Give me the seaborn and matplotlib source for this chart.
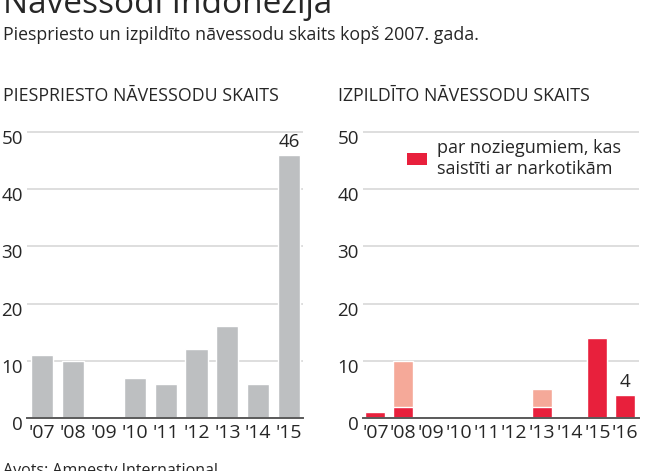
import matplotlib
matplotlib.use("Agg")
import matplotlib.pyplot as plt
import matplotlib.transforms as mtransforms
from matplotlib.patches import Patch
import seaborn as sns
import pandas as pd

# ---- data ----
years_sentenced = ["'07", "'08", "'09", "'10", "'11", "'12", "'13", "'14", "'15"]
sentenced = [11, 10, 0, 7, 6, 12, 16, 6, 46]

years_executed = ["'07", "'08", "'09", "'10", "'11", "'12", "'13", "'14", "'15", "'16"]
executed_total = [1, 10, 0, 0, 0, 0, 5, 0, 14, 4]
executed_drugs = [1, 2, 0, 0, 0, 0, 2, 0, 14, 4]

title = "Nāvessodi Indonēzijā"
subtitle = "Piespriesto un izpildīto nāvessodu skaits kopš 2007. gada."
left_title = "PIESPRIESTO NĀVESSODU SKAITS"
right_title = "IZPILDĪTO NĀVESSODU SKAITS"
legend_label = "par noziegumiem, kas\nsaistīti ar narkotikām"
source = "Avots: Amnesty International"
yticks = [0, 10, 20, 30, 40, 50]

GRAY = "#bdbfc1"
RED = "#e8203c"
LIGHT = "#f5a999"
TXT = "#262626"

sns.set_theme(style="white")
plt.rcParams["font.family"] = ["Open Sans", "DejaVu Sans"]

W, H = 660, 471
fig = plt.figure(figsize=(W / 100, H / 100), dpi=100)


def px_axes(left, top, right, bottom):
    return fig.add_axes([left / W, 1 - bottom / H, (right - left) / W, (bottom - top) / H])


YMAX = 51.0
def top_for(zero_px, fifty_px):
    return zero_px - (zero_px - fifty_px) * YMAX / 50


def style(ax, xlim):
    ax.set_ylim(0, YMAX)
    ax.set_xlim(*xlim)
    ax.set_yticks(yticks)
    ax.set_xlabel("")
    ax.set_ylabel("")
    for s in ["top", "left", "right"]:
        ax.spines[s].set_visible(False)
    ax.spines["bottom"].set_color("#5a5a5a")
    ax.spines["bottom"].set_linewidth(1.4)
    ax.spines["bottom"].set_zorder(5)
    ax.set_axisbelow(True)
    ax.yaxis.grid(True, color="#dedede", linewidth=1.4)
    ax.xaxis.grid(False)
    ax.tick_params(axis="both", length=0, colors=TXT)
    ax.tick_params(axis="y", labelsize=13.5, pad=3)
    ax.tick_params(axis="x", labelsize=14, pad=4)
    off = mtransforms.ScaledTranslation(0, -5 / 100, fig.dpi_scale_trans)
    for lab in ax.get_yticklabels():
        lab.set_transform(lab.get_transform() + off)
        lab.set_color(TXT)
    for lab in ax.get_xticklabels():
        lab.set_color(TXT)
    ax.set_facecolor("none")


# ---- left panel ----
axL = px_axes(27, top_for(418, 132), 303, 418)
dfL = pd.DataFrame({"year": years_sentenced, "n": sentenced})
sns.barplot(data=dfL, x="year", y="n", color=GRAY, saturation=1, width=0.72, ax=axL)
style(axL, (-0.49, 8.45))
axL.annotate(str(sentenced[-1]), (len(sentenced) - 1, sentenced[-1]), xytext=(0, 3),
             textcoords="offset points", ha="center", va="bottom", fontsize=13.5, color=TXT)

# ---- right panel ----
axR = px_axes(363, top_for(418, 132), 639, 418)
dfR = pd.DataFrame({"year": years_executed, "total": executed_total, "drugs": executed_drugs})
sns.barplot(data=dfR, x="year", y="total", color=LIGHT, saturation=1, width=0.72, ax=axR)
sns.barplot(data=dfR, x="year", y="drugs", color=RED, saturation=1, width=0.72, ax=axR)
style(axR, (-0.45, 9.5))
axR.annotate(str(executed_drugs[-1]), (len(executed_drugs) - 1, executed_drugs[-1]), xytext=(0, 3),
             textcoords="offset points", ha="center", va="bottom", fontsize=13.5, color=TXT)
leg = axR.legend(handles=[Patch(facecolor=RED, edgecolor="none", label=legend_label)],
                 loc="upper left", bbox_to_anchor=(407 / W, 1 - 139 / H),
                 bbox_transform=fig.transFigure, frameon=False, fontsize=13,
                 handlelength=1.1, handleheight=0.65, handletextpad=0.55,
                 borderaxespad=0, borderpad=0, labelspacing=0.2)
for t in leg.get_texts():
    t.set_color(TXT)
    t.set_linespacing(1.2)

# ---- texts ----
fig.text(3 / W, 1 - 13 / H, title, fontsize=24, color=TXT, ha="left", va="baseline")
fig.text(3 / W, 1 - 35 / H, subtitle, fontsize=12.8, color=TXT, ha="left", va="center")
fig.text(3 / W, 1 - 96 / H, left_title, fontsize=12.8, color=TXT, ha="left", va="center")
fig.text(338 / W, 1 - 96 / H, right_title, fontsize=12.8, color=TXT, ha="left", va="center")
fig.text(3 / W, 1 - 463 / H, source, fontsize=11.5, color=TXT, ha="left", va="top")

fig.savefig("out.png", dpi=100)
